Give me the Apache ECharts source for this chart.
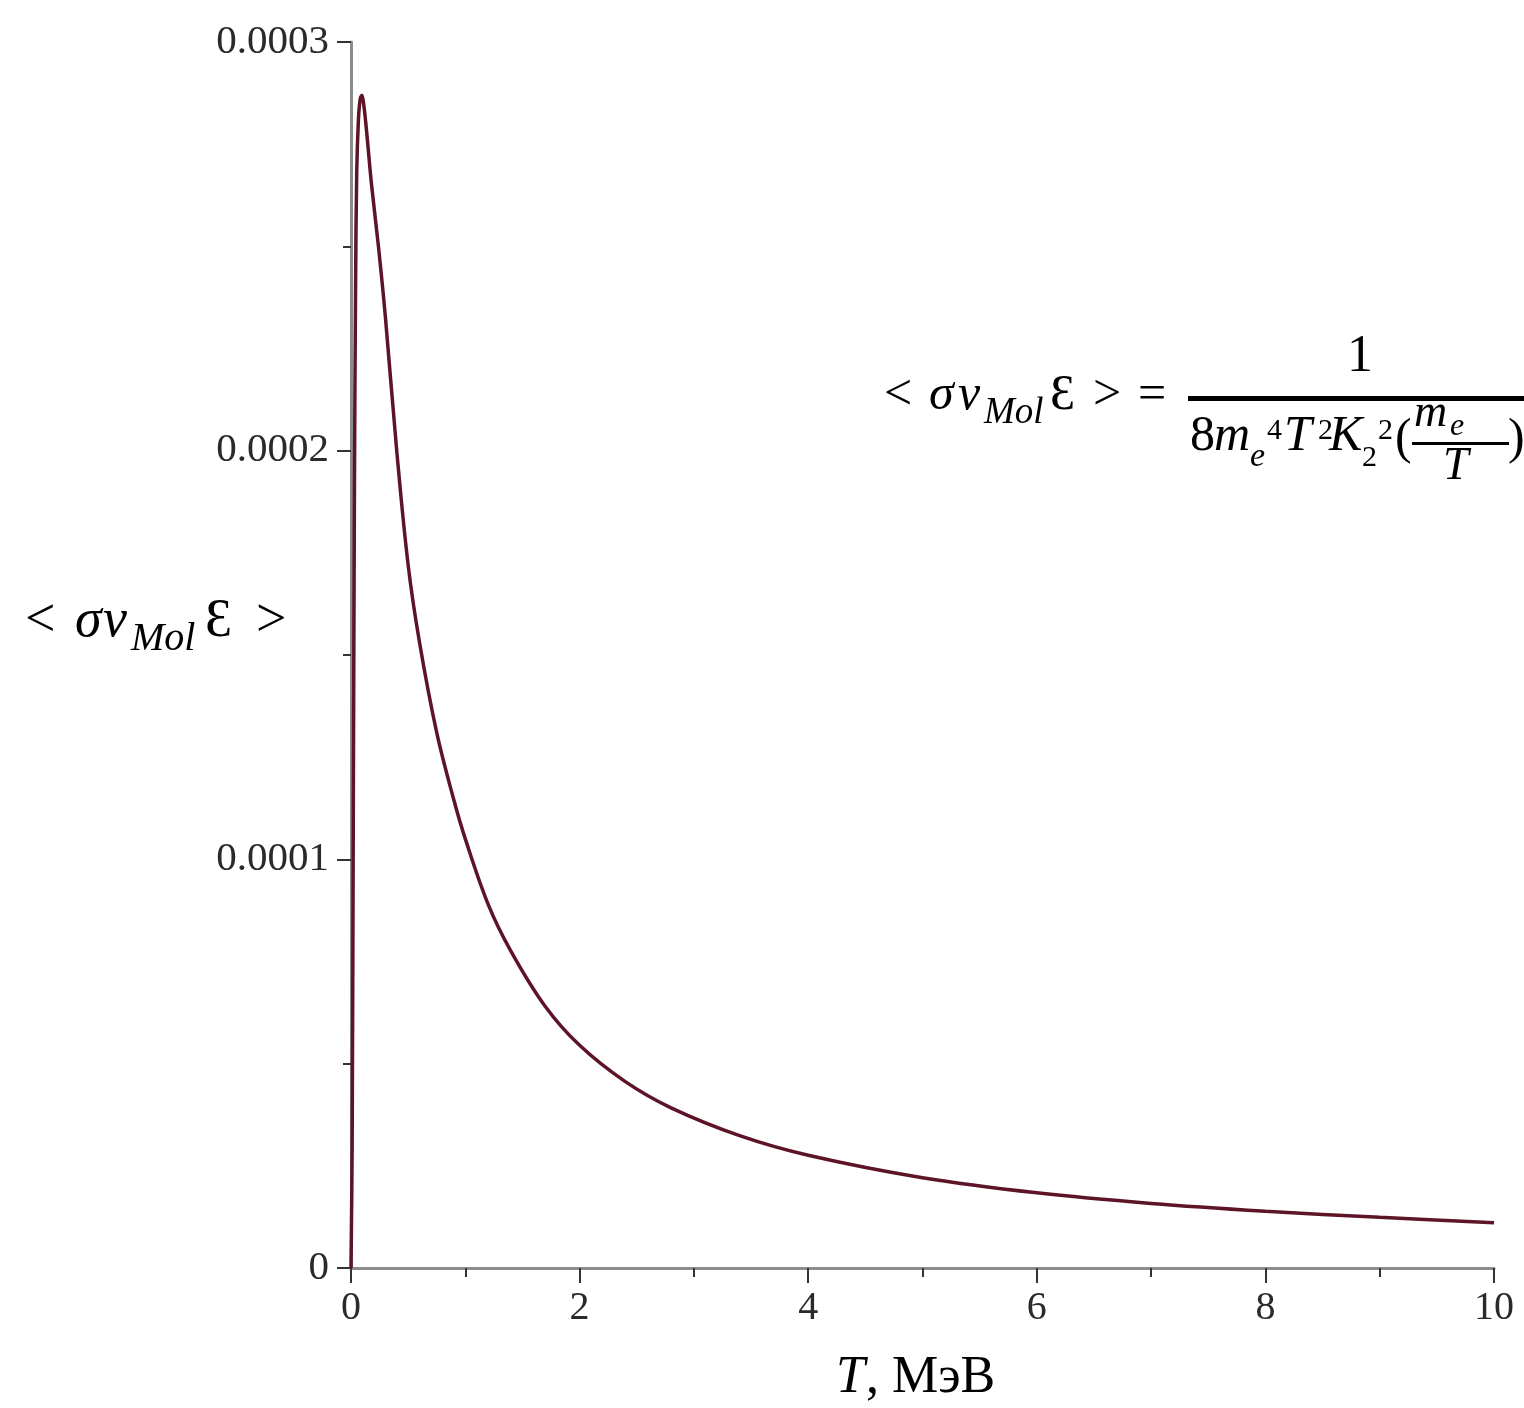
<!DOCTYPE html>
<html>
<head>
<meta charset="utf-8">
<script src="https://cdn.jsdelivr.net/npm/echarts@6.0.0/dist/echarts.min.js"></script>
<style>
  html, body { margin: 0; padding: 0; background: #fff; }
  #main { width: 1524px; height: 1408px; }
</style>
</head>
<body>
<div id="main"></div>
<script>
// 溫度 T (МэВ) 與 <σ v_Mol Ɛ> 讀值
const temperature = [0, 0.01, 0.02, 0.03, 0.04, 0.05, 0.065, 0.08, 0.095, 0.11, 0.13, 0.15, 0.18,
    0.24, 0.3, 0.4, 0.5, 0.6, 0.75, 0.9, 1.0, 1.2, 1.4, 1.7, 2.0, 2.4, 2.8, 3.4, 4.0,
    5.0, 6.0, 7.0, 8.0, 9.0, 10.0];
const rateValues = [0, 0.3e-4, 1.1e-4, 1.9e-4, 2.4e-4, 2.68e-4, 2.81e-4, 2.86e-4, 2.87e-4, 2.85e-4, 2.8e-4, 2.74e-4, 2.65e-4,
    2.5e-4, 2.33e-4, 2.0e-4, 1.72e-4, 1.53e-4, 1.31e-4, 1.145e-4, 1.05e-4, 0.89e-4, 0.775e-4, 0.64e-4, 0.545e-4, 0.456e-4, 0.392e-4, 0.324e-4, 0.276e-4,
    0.221e-4, 0.184e-4, 0.158e-4, 0.139e-4, 0.124e-4, 0.111e-4];

const xTicks = [0, 2, 4, 6, 8, 10];
const yTickLabels = ['0', '0.0001', '0.0002', '0.0003'];

const FONT = "'Liberation Serif', 'DejaVu Serif', serif";
const myChart = echarts.init(document.getElementById('main'));

// 一個數學字元片段: 文字, 左邊 x, 基線 y, 字級, 斜體
function mathText(t, x, baseline, size, italic) {
    return {
        type: 'text',
        x: x,
        y: baseline - size * 0.3,
        style: {
            text: t,
            fontSize: size,
            fontStyle: italic ? 'italic' : 'normal',
            fontFamily: FONT,
            fill: '#000',
            align: 'left',
            verticalAlign: 'middle'
        }
    };
}

const graphics = [
    // 左側 y 軸標題
    mathText('<', 25, 638, 54),
    mathText('σ', 75, 638, 54, true),
    mathText('v', 103, 638, 54, true),
    mathText('Mol', 131, 651, 40, true),
    mathText('Ɛ', 205, 638, 54),
    mathText('>', 256, 638, 54),

    // 右上公式左邊
    mathText('<', 884, 411, 50),
    mathText('σ', 929, 411, 50, true),
    mathText('v', 958, 411, 50, true),
    mathText('Mol', 984, 424, 37, true),
    mathText('Ɛ', 1050, 411, 50),
    mathText('>', 1093, 411, 50),
    mathText('=', 1138, 411, 50),

    // 分子
    mathText('1', 1347, 373, 52),
    { type: 'rect', shape: { x: 1188, y: 396, width: 340, height: 5 }, style: { fill: '#000' } },

    // 分母
    mathText('8', 1190, 452, 50),
    mathText('m', 1214, 452, 50, true),
    mathText('e', 1250, 467, 34, true),
    mathText('4', 1267, 440, 30),
    mathText('T', 1284, 452, 50, true),
    mathText('2', 1318, 440, 30),
    mathText('K', 1329, 452, 50, true),
    mathText('2', 1362, 467, 30),
    mathText('2', 1378, 440, 30),
    mathText('(', 1395, 455, 50),
    mathText('m', 1414, 428, 46, true),
    mathText('e', 1450, 436, 32, true),
    { type: 'rect', shape: { x: 1412, y: 442, width: 97, height: 3 }, style: { fill: '#000' } },
    mathText('T', 1443, 481, 46, true),
    mathText(')', 1508, 455, 50),

    // x 軸標題
    mathText('T', 836, 1394, 52, true),
    mathText(', МэВ', 866, 1394, 52)
];

const option = {
    animation: false,
    backgroundColor: '#fff',
    grid: { left: 351, right: 30, top: 42, bottom: 140 },
    xAxis: {
        type: 'value',
        min: 0,
        max: 10,
        interval: 2,
        axisLine: { lineStyle: { color: '#8c8c8c', width: 3 } },
        axisTick: { length: 15, lineStyle: { color: '#333', width: 2 } },
        minorTick: { show: true, splitNumber: 2, length: 9, lineStyle: { color: '#333', width: 2 } },
        splitLine: { show: false },
        axisLabel: {
            fontFamily: FONT, fontSize: 40, color: '#2a2a2a', margin: 20,
            formatter: v => xTicks.includes(v) ? String(v) : ''
        }
    },
    yAxis: {
        type: 'value',
        min: 0,
        max: 0.0003,
        interval: 0.0001,
        axisLine: { show: true, lineStyle: { color: '#8c8c8c', width: 3 } },
        axisTick: { show: true, length: 14, lineStyle: { color: '#333', width: 2 } },
        minorTick: { show: true, splitNumber: 2, length: 8, lineStyle: { color: '#333', width: 2 } },
        splitLine: { show: false },
        axisLabel: {
            fontFamily: FONT, fontSize: 41, color: '#2a2a2a', margin: 22,
            formatter: v => yTickLabels[Math.round(v / 0.0001)]
        }
    },
    series: [{
        type: 'line',
        data: temperature.map((t, i) => [t, rateValues[i]]),
        showSymbol: false,
        smooth: 0.35,
        lineStyle: { color: '#5c1426', width: 3.5 },
        z: 5
    }],
    graphic: graphics
};

myChart.setOption(option);
</script>
</body>
</html>
